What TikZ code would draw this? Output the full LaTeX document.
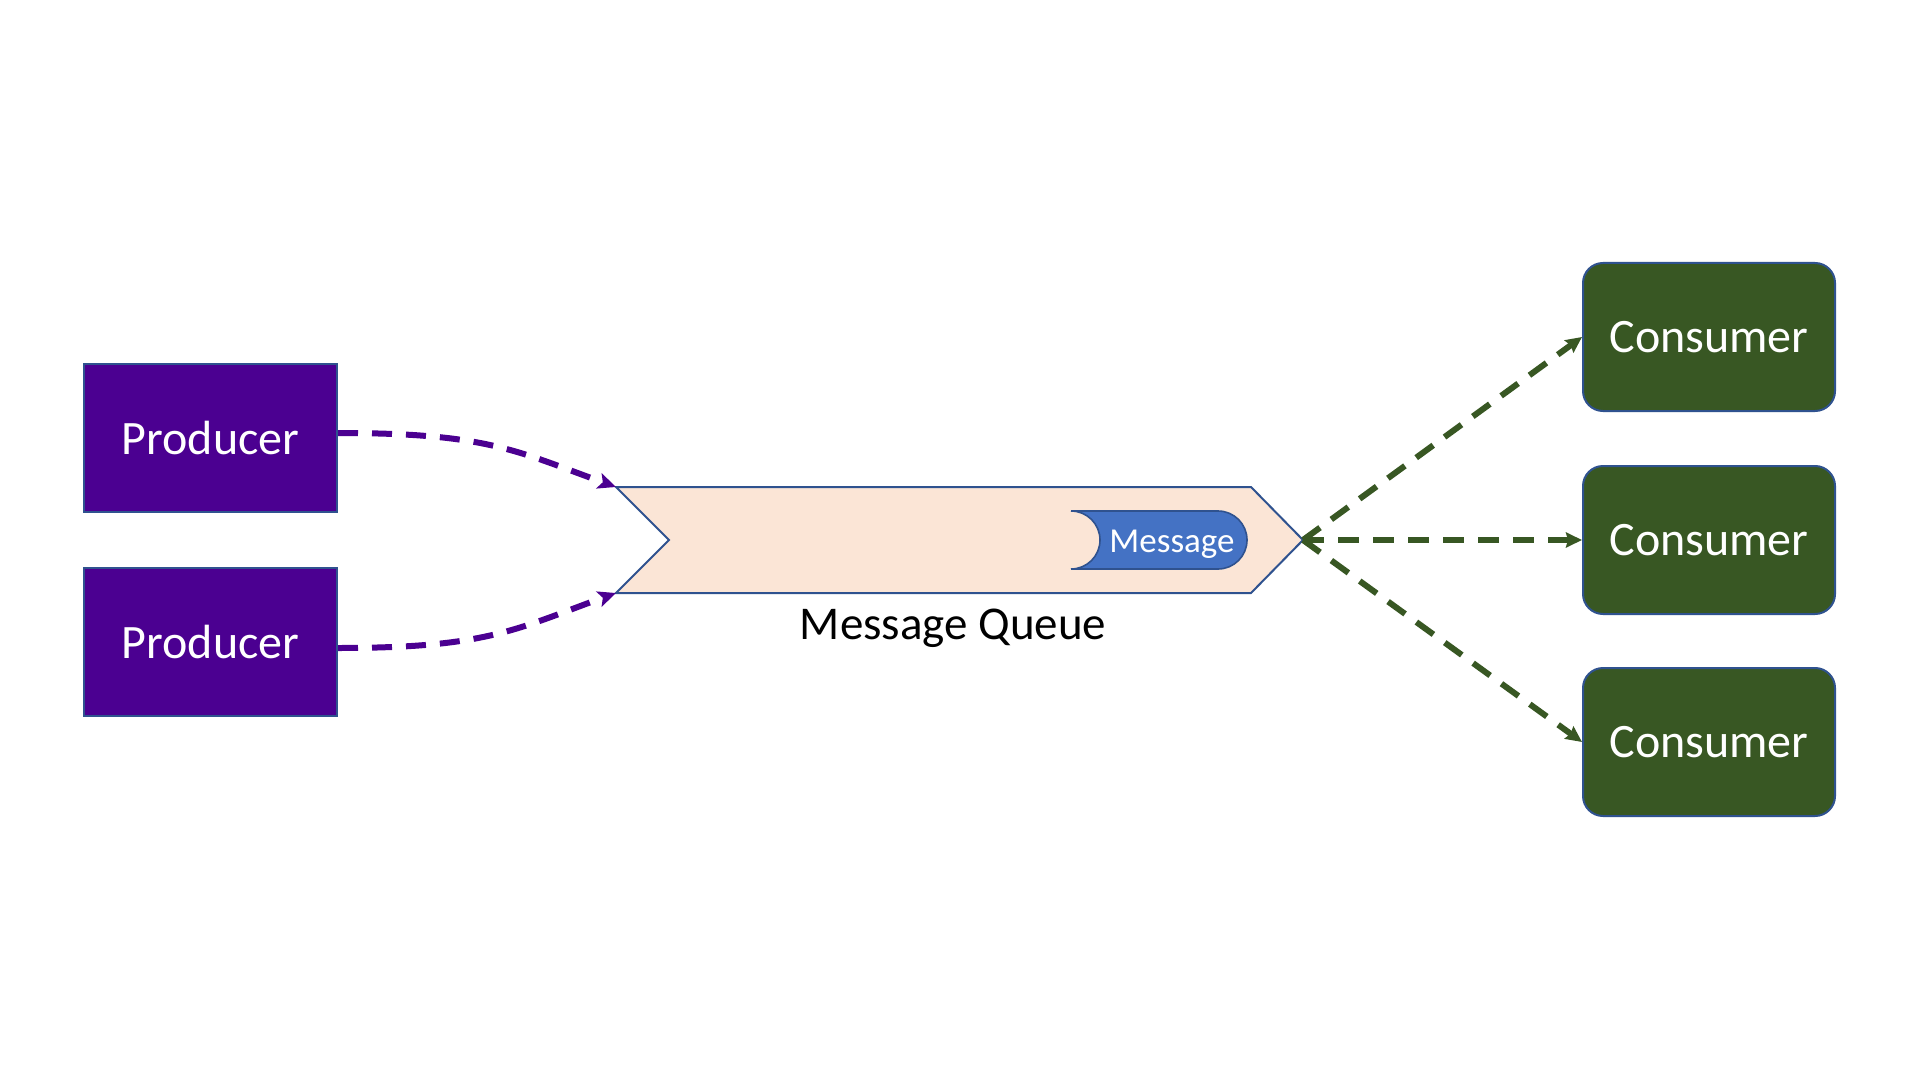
\documentclass[tikz,border=0pt]{standalone}
\usepackage{fontspec}
\setmainfont{Carlito}
\usetikzlibrary{arrows.meta}
\definecolor{prodfill}{HTML}{4B0091}
\definecolor{outline}{HTML}{2F528F}
\definecolor{consfill}{HTML}{385723}
\definecolor{queuefill}{HTML}{FBE5D6}
\definecolor{msgfill}{HTML}{4472C4}
\begin{document}
\begin{tikzpicture}[x=0.5pt,y=-0.5pt,
  producer/.style={draw=outline, line width=1pt, fill=prodfill, text=white,
    minimum width=126.5pt, minimum height=74pt, inner sep=0pt,
    font=\fontsize{24}{28}\selectfont},
  consumer/.style={draw=outline, line width=1pt, fill=consfill, text=white,
    rounded corners=10pt, minimum width=126pt, minimum height=74pt, inner sep=0pt,
    font=\fontsize{24}{28}\selectfont},
  queueshape/.style={draw=outline, line width=1pt, fill=queuefill, line join=miter},
  msgshape/.style={draw=outline, line width=0.8pt, fill=msgfill},
  flowP/.style={draw=prodfill, line width=3pt, dash pattern=on 10pt off 7pt,
    -{Stealth[length=9pt,width=8pt,inset=2pt]}},
  flowC/.style={draw=consfill, line width=3pt, dash pattern=on 10.5pt off 7pt,
    -{Stealth[length=8pt,width=7.5pt,inset=1pt]}}
]
\useasboundingbox[fill=white] (0,0) rectangle (1920,1080);

% producers
\node[producer] (p1) at (210.5,438) {Producer};
\node[producer] (p2) at (210.5,642) {Producer};

% consumers
\node[consumer] (c1) at (1709,337) {Consumer};
\node[consumer] (c2) at (1709,540) {Consumer};
\node[consumer] (c3) at (1709,742) {Consumer};

% queue
\coordinate (qtl) at (616,487);
\coordinate (qtr) at (1251,487);
\coordinate (qtip) at (1303,540);
\coordinate (qbr) at (1251,593);
\coordinate (qbl) at (616,593);
\coordinate (qnotch) at (669,540);
\draw[queueshape] (qtl) -- (qtr) -- (qtip) -- (qbr) -- (qbl) -- (qnotch) -- cycle;
\node[anchor=base, font=\fontsize{23.5}{27}\selectfont] (qlabel) at (953,639) {Message Queue};

% message
\coordinate (mtl) at (1071,511);
\coordinate (mtr) at (1218,511);
\coordinate (mbr) at (1218,569);
\coordinate (mbl) at (1071,569);
\draw[msgshape] (mtl) -- (mtr) arc[start angle=90, end angle=-90, radius=14.5pt]
  -- (mbl) arc[start angle=-90, end angle=90, radius=14.5pt] -- cycle;
\node[anchor=base, text=white, font=\fontsize{17.5}{21}\selectfont] (msg) at (1172,552) {Message};

% producer arrows
\draw[flowP] ([yshift=2.5pt]p1.east) .. controls +(150,0) and +(-100,-36) .. (qtl);
\draw[flowP] ([yshift=-3pt]p2.east) .. controls +(150,0) and +(-100,36) .. (qbl);

% consumer arrows
\draw[flowC] (qtip) -- (c1.west);
\draw[flowC] (qtip) -- (c2.west);
\draw[flowC] (qtip) -- (c3.west);
\end{tikzpicture}
\end{document}
